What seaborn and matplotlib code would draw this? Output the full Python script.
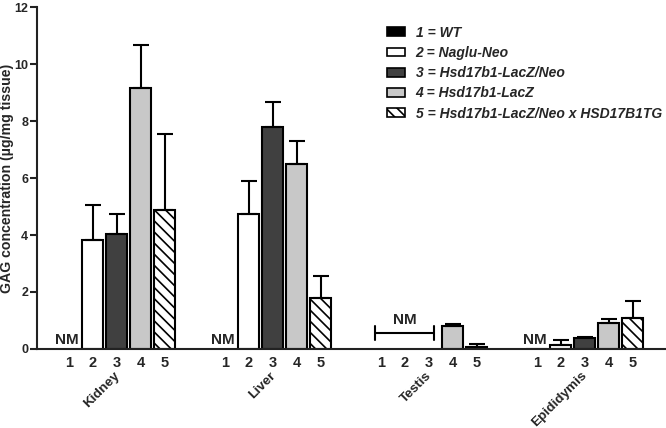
import numpy as np
import pandas as pd
import matplotlib
matplotlib.use("Agg")
import matplotlib.pyplot as plt
import matplotlib.transforms as mtransforms
from matplotlib.patches import Patch
import seaborn as sns

# ---------------- data ----------------
tissues = ["Kidney", "Liver", "Testis", "Epididymis"]
genotypes = ["1 = WT", "2 = Naglu-Neo", "3 = Hsd17b1-LacZ/Neo",
             "4 = Hsd17b1-LacZ", "5 = Hsd17b1-LacZ/Neo x HSD17B1TG"]
bar_labels = ["1", "2", "3", "4", "5"]
nan = np.nan
kidney_mean = [nan, 3.83, 4.02, 9.17, 4.86]
kidney_sd = [nan, 1.23, 0.70, 1.51, 2.67]
liver_mean = [nan, 4.74, 7.79, 6.48, 1.80]
liver_sd = [nan, 1.16, 0.86, 0.81, 0.75]
testis_mean = [nan, nan, nan, 0.80, 0.06]
testis_sd = [nan, nan, nan, 0.07, 0.12]
epid_mean = [0.01, 0.14, 0.37, 0.90, 1.07]
epid_sd = [0.0, 0.18, 0.05, 0.15, 0.63]
means = [kidney_mean, liver_mean, testis_mean, epid_mean]
sds = [kidney_sd, liver_sd, testis_sd, epid_sd]

colors = ["#000000", "#ffffff", "#404040", "#c8c8c8", "#ffffff"]
hatches = ["", "", "", "", "\\\\\\"]

group_step = 6.5
rows = []
for gi, t in enumerate(tissues):
    for bi, g in enumerate(genotypes):
        rows.append(dict(tissue=t, genotype=g, pos=gi * group_step + bi,
                         mean=means[gi][bi], sd=sds[gi][bi]))
df = pd.DataFrame(rows)

# ---------------- style ----------------
sns.set_style("ticks")
plt.rcParams["font.family"] = ["Liberation Sans", "DejaVu Sans"]
plt.rcParams["font.weight"] = "bold"
plt.rcParams["hatch.linewidth"] = 1.2
plt.rcParams["hatch.color"] = "black"

fig = plt.figure(figsize=(6.66, 4.28), dpi=100)
ax = fig.add_axes([0.0556, 0.1846, 0.9424, 0.799])

plot_df = df.dropna(subset=["mean"])
sns.barplot(data=plot_df, x="pos", y="mean", hue="genotype", hue_order=genotypes,
            palette=dict(zip(genotypes, colors)), native_scale=True, dodge=False,
            width=0.88, errorbar=None, edgecolor="black", linewidth=1.5,
            legend=False, ax=ax)

for cont, h in zip(ax.containers, hatches):
    for p in cont:
        p.set_hatch(h)
        p.set_edgecolor("black")
        p.set_linewidth(1.5)

eb = plot_df.dropna(subset=["sd"])
eb = eb[eb["sd"] > 0]
ax.errorbar(eb["pos"], eb["mean"], yerr=[np.zeros(len(eb)), eb["sd"]],
            fmt="none", ecolor="black", elinewidth=1.5, capsize=5.5,
            capthick=1.5, zorder=1)

# NM markers
nm_kw = dict(ha="center", va="center", fontsize=11, fontweight="bold")
first_pos = df[df.genotype == genotypes[0]].pos.values
for gi in (0, 1, 3):
    ax.text(first_pos[gi] - 0.1, 0.32, "NM", **nm_kw)
tp = df[df.tissue == "Testis"].pos.values
ax.plot([tp[0] - 0.25, tp[2] + 0.2], [0.55, 0.55], color="black", lw=1.5)
for xx in (tp[0] - 0.25, tp[2] + 0.2):
    ax.plot([xx, xx], [0.3, 0.8], color="black", lw=1.5)
ax.text(tp[1], 0.78, "NM", ha="center", va="bottom", fontsize=11, fontweight="bold")

# axes
ax.set_xlim(-1.33, 3 * group_step + 4 + 1.33)
ax.set_ylim(0, 12)
ax.set_yticks(np.arange(0, 13, 2))
ax.set_xticks(df.pos.values)
ax.set_xticklabels(bar_labels * len(tissues), fontsize=10.5, fontweight="bold")
ax.tick_params(axis="x", length=0, pad=5)
ax.tick_params(axis="y", length=5, width=1.5, labelsize=9, color="#222222", pad=1.5)
ax.set_xlabel("")
ax.set_ylabel("GAG concentration (\u00b5g/mg tissue)", fontsize=10.2,
              fontweight="bold")
ax.yaxis.set_label_coords(-0.036, 0.5)
sns.despine(ax=ax)
for s in ("left", "bottom"):
    ax.spines[s].set_linewidth(1.5)
    ax.spines[s].set_color("#222222")

trans = mtransforms.blended_transform_factory(ax.transData, ax.transAxes)
for gi, t in enumerate(tissues):
    c = gi * group_step + 2
    ax.text(c + 0.2, -0.06, t, rotation=45, ha="right", va="top",
            transform=trans, fontsize=9.7, fontweight="bold")

handles = [Patch(facecolor=c, edgecolor="black", hatch=h, linewidth=1.2)
           for c, h in zip(colors, hatches)]
leg = ax.legend(handles, genotypes, loc="upper left", bbox_to_anchor=(0.548, 0.962),
                frameon=False, handlelength=1.35, handleheight=0.6,
                handletextpad=0.75, labelspacing=0.45, borderaxespad=0,
                prop=dict(family="Liberation Sans", weight="bold", style="italic", size=10))

fig.savefig("out.png", dpi=100)
